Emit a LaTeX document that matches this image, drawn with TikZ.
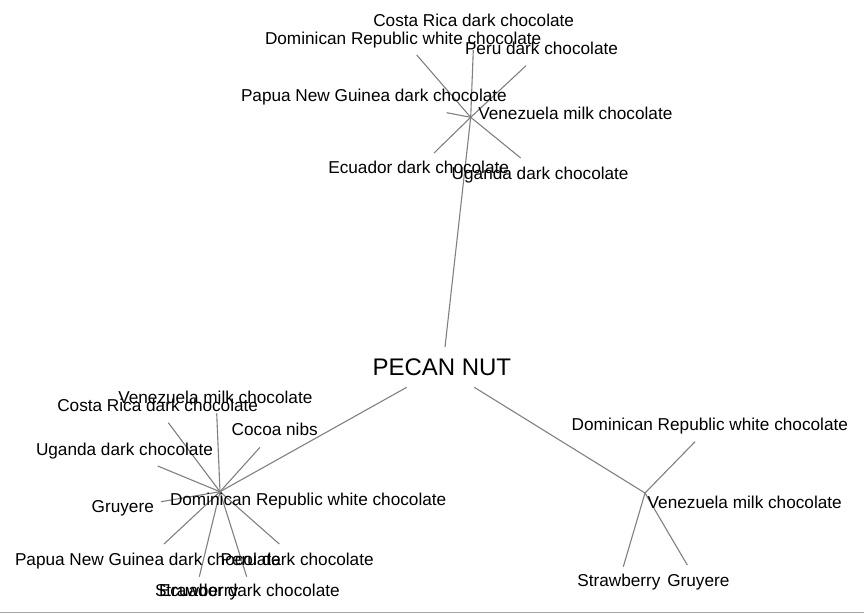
\documentclass[tikz,border=0pt]{standalone}
\usepackage{fontspec}
\setmainfont{Liberation Sans}
\definecolor{edgegray}{RGB}{128,128,128}
\definecolor{rulegray}{RGB}{165,165,165}
\begin{document}
\begin{tikzpicture}[x=1pt,y=-1pt,
  lbl/.style={font=\fontsize{17.2}{20}\selectfont, anchor=base west, inner sep=0pt, outer sep=0pt},
  rootlbl/.style={font=\fontsize{24}{27}\selectfont, anchor=base west, inner sep=0pt, outer sep=0pt},
  edge/.style={draw=edgegray, line width=1.1pt}]
\useasboundingbox (0,0) rectangle (864,614);
% root
\node[rootlbl] (root) at (372.5,375.7) {PECAN NUT};
\coordinate (cT) at (445,347);
\coordinate (cL) at (406.7,387.3);
\coordinate (cR) at (474.3,387.3);
% top cluster
\coordinate (th) at (470.7,117.3);
\coordinate (tDR) at (416.7,55);
\coordinate (tCR) at (473.3,50);
\coordinate (tPe) at (526,65.7);
\coordinate (tPNG) at (446.7,112.7);
\coordinate (tEc) at (434,153);
\coordinate (tUg) at (520.7,158);
\draw[edge] (th) -- (cT);
\draw[edge] (th) -- (tDR);
\draw[edge] (th) -- (tCR);
\draw[edge] (th) -- (tPe);
\draw[edge] (th) -- (tPNG);
\draw[edge] (th) -- (tEc);
\draw[edge] (th) -- (tUg);
\node[lbl] (tCRl) at (373.3,26.7) {Costa Rica dark chocolate};
\node[lbl] (tDRl) at (265,44.3) {Dominican Republic white chocolate};
\node[lbl] (tPel) at (465,54.3) {Peru dark chocolate};
\node[lbl] (tPNGl) at (241,101.7) {Papua New Guinea dark chocolate};
\node[lbl] (thl) at (478.3,119) {Venezuela milk chocolate};
\node[lbl] (tEcl) at (328.3,173.3) {Ecuador dark chocolate};
\node[lbl] (tUgl) at (451.7,179) {Uganda dark chocolate};
% bottom-left cluster
\coordinate (bh) at (220,491.7);
\coordinate (bVe) at (216.7,413.3);
\coordinate (bCR) at (168.3,422.7);
\coordinate (bCo) at (260,447.3);
\coordinate (bUg) at (157.7,466);
\coordinate (bGr) at (161,501.7);
\coordinate (bPNG) at (164,544);
\coordinate (bPe) at (279.3,544);
\coordinate (bSt) at (199.3,576.7);
\coordinate (bEc) at (246.7,576.7);
\draw[edge] (bh) -- (cL);
\draw[edge] (bh) -- (bVe);
\draw[edge] (bh) -- (bCR);
\draw[edge] (bh) -- (bCo);
\draw[edge] (bh) -- (bUg);
\draw[edge] (bh) -- (bGr);
\draw[edge] (bh) -- (bPNG);
\draw[edge] (bh) -- (bPe);
\draw[edge] (bh) -- (bSt);
\draw[edge] (bh) -- (bEc);
\node[lbl] (bVel) at (118.3,403.3) {Venezuela milk chocolate};
\node[lbl] (bCRl) at (57.3,411) {Costa Rica dark chocolate};
\node[lbl] (bCol) at (231.7,435) {Cocoa nibs};
\node[lbl] (bUgl) at (36,455) {Uganda dark chocolate};
\node[lbl] (bhl) at (170,505) {Dominican Republic white chocolate};
\node[lbl] (bGrl) at (91.7,512.3) {Gruyere};
\node[lbl] (bPNGl) at (15,565) {Papua New Guinea dark chocolate};
\node[lbl] (bPel) at (220.7,565) {Peru dark chocolate};
\node[lbl] (bStl) at (155,596.7) {Strawberry};
\node[lbl] (bEcl) at (159,596.7) {Ecuador dark chocolate};
% right cluster
\coordinate (rh) at (645,493);
\coordinate (rDR) at (695,441.7);
\coordinate (rSt) at (623.3,566.7);
\coordinate (rGr) at (687.3,565);
\draw[edge] (rh) -- (cR);
\draw[edge] (rh) -- (rDR);
\draw[edge] (rh) -- (rSt);
\draw[edge] (rh) -- (rGr);
\node[lbl] (rDRl) at (571.7,430) {Dominican Republic white chocolate};
\node[lbl] (rhl) at (647.7,508.3) {Venezuela milk chocolate};
\node[lbl] (rStl) at (577.3,586.7) {Strawberry};
\node[lbl] (rGrl) at (667.3,586.7) {Gruyere};
% bottom rule
\coordinate (ruleL) at (0,612.5);
\coordinate (ruleR) at (864,612.5);
\draw[draw=rulegray, line width=1.5pt] (ruleL) -- (ruleR);
\end{tikzpicture}
\end{document}
